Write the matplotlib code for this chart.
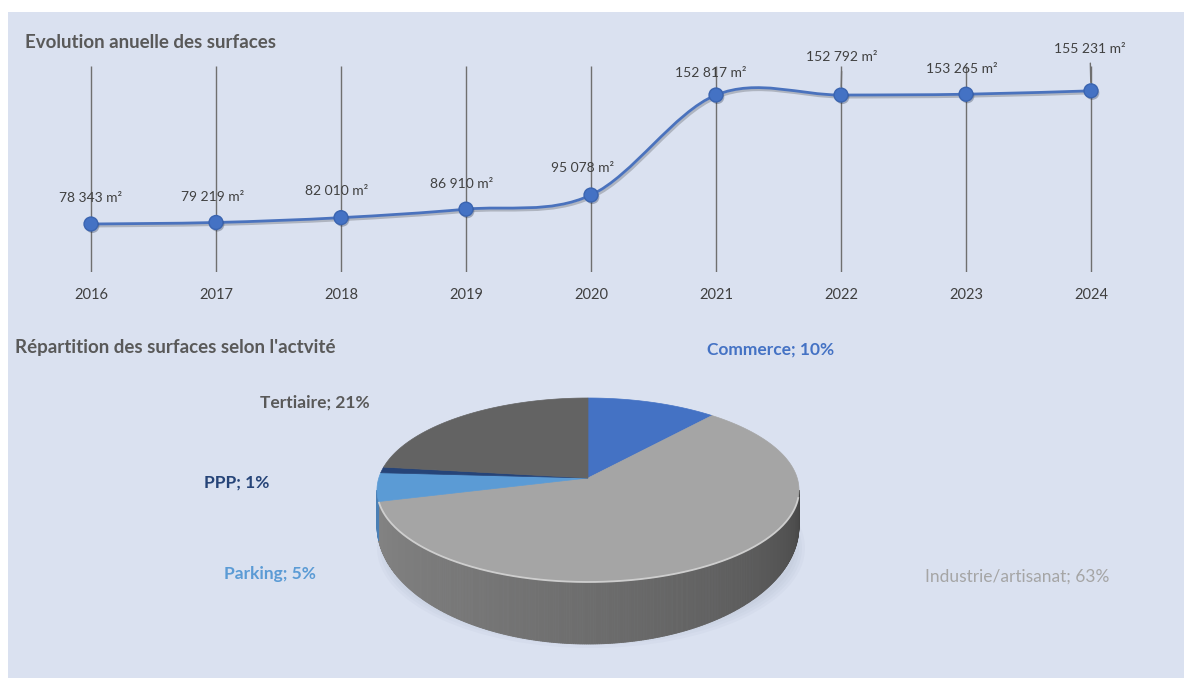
import numpy as np
import matplotlib.pyplot as plt
from matplotlib.path import Path
from matplotlib.patches import PathPatch, Polygon, Rectangle, Ellipse
import matplotlib.patheffects as pe

plt.rcParams['font.family'] = ['Lato', 'DejaVu Sans']

#### DATA ####
years = [2016, 2017, 2018, 2019, 2020, 2021, 2022, 2023, 2024]
surfaces = [78343, 79219, 82010, 86910, 95078, 152817, 152792, 153265, 155231]

activities = ['Commerce', 'Industrie/artisanat', 'Parking', 'PPP', 'Tertiaire']
shares = [10, 63, 5, 1, 21]

#### STYLE ####
slice_colors = ['#4472C4', '#A5A5A5', '#5B9BD5', '#264478', '#636363']
label_colors = ['#4472C4', '#A5A5A5', '#5B9BD5', '#264478', '#595959']
label_bold = [True, False, True, True, True]
# pie label positions (pixels)
label_pos = [(771, 350), (1017, 577), (270, 574), (237, 483), (315, 403)]
# value label offsets above the points (pixels, dx, dy)
val_offsets = [(0, 26), (-3, 25), (-4, 27), (-4, 25), (-8, 27),
               (-5, 22), (1, 38), (-4, 25), (-1, 42)]
panel = '#DAE1F0'
W, H = 1184, 678
PX = 72 / 100.  # points per pixel

fig = plt.figure(figsize=(W / 100, H / 100), dpi=100)
fig.patch.set_facecolor('white')

# background axes in pixel coordinates
bg = fig.add_axes([0, 0, 1, 1])
bg.set_xlim(0, W)
bg.set_ylim(H, 0)
bg.axis('off')
bg.add_patch(Rectangle((8, 12), W - 8, H - 12, facecolor=panel, edgecolor='none'))

bg.text(25, 42, 'Evolution anuelle des surfaces', fontsize=13.5, fontweight='bold',
        color='#595959', va='center', ha='left')
bg.text(15, 347, "Répartition des surfaces selon l'actvité", fontsize=13.5,
        fontweight='bold', color='#595959', va='center', ha='left')

#### LINE CHART ####
ylo, yhi = 50633, 169559
ax = fig.add_axes([41 / W, 1 - 272 / H, 1100 / W, 206 / H])
ax.set_facecolor('none')
ax.set_xlim(2015.6, 2024.4)
ax.set_ylim(ylo, yhi)
ax.axis('off')
ax.vlines(years, ylo, yhi, color='#6f6f6f', lw=1.0, zorder=1)

# smoothed line (Catmull-Rom style bezier, like the spreadsheet smoothing)
P = np.column_stack([np.array(years, float), np.array(surfaces, float)])
Pe = np.vstack([P[0], P, P[-1]])
verts = [P[0]]
codes = [Path.MOVETO]
for i in range(len(P) - 1):
    p0, p1, p2, p3 = Pe[i], Pe[i + 1], Pe[i + 2], Pe[i + 3]
    c1 = p1 + (p2 - p0) / 6
    c2 = p2 - (p3 - p1) / 6
    verts += [c1, c2, p2]
    codes += [Path.CURVE4] * 3
curve = PathPatch(Path(verts, codes), facecolor='none', edgecolor='#4a72bd', lw=2,
                  zorder=3, path_effects=[pe.SimpleLineShadow(offset=(1, -1.5), alpha=0.2),
                                          pe.Normal()])
ax.add_patch(curve)
ax.plot(years, surfaces, 'o', ms=10, color='#4472C4', mec='#3a64b0', mew=1, zorder=4,
        path_effects=[pe.SimplePatchShadow(offset=(1, -1.5), alpha=0.3), pe.Normal()])

for yr, v, (dx, dy) in zip(years, surfaces, val_offsets):
    txt = f'{v:,}'.replace(',', ' ') + ' m²'
    leader = dy > 30
    ax.annotate(txt, (yr, v), xytext=(dx * PX, dy * PX), textcoords='offset points',
                ha='center', va='center', fontsize=10, color='#404040', zorder=5,
                arrowprops=dict(arrowstyle='-', color='#6f6f6f', lw=1,
                                shrinkA=4, shrinkB=6) if leader else None)

for yr in years:
    ax.annotate(str(yr), (yr, ylo), xytext=(0, -23 * PX), textcoords='offset points',
                ha='center', va='center', fontsize=10.5, color='#404040')

#### 3D PIE ####
cx, cy, rx, ry = 588, 490, 211, 92
apex = (cx, cy - 12)


def top_pt(t):
    r = np.radians(t)
    return cx + rx * np.sin(r), cy - ry * np.cos(r)


def depth(t):
    return 36 + 26 * max(0.0, -np.cos(np.radians(t)))


# soft shadow under the pie
for k in range(4):
    bg.add_patch(Ellipse((cx + 3, cy + 58), 2 * rx + 6 - 6 * k, 2 * ry + 16 - 6 * k,
                         facecolor='#9aa4b8', edgecolor='none', alpha=0.07, zorder=1))

bounds = np.concatenate([[0], np.cumsum(shares)]) / sum(shares) * 360

# sides (front half only)
for i in range(len(shares)):
    a0, a1 = max(bounds[i], 90), min(bounds[i + 1], 270)
    if a1 <= a0:
        continue
    steps = np.linspace(a0, a1, max(2, int((a1 - a0) * 2)))
    for t0, t1 in zip(steps[:-1], steps[1:]):
        tm = (t0 + t1) / 2
        x0, y0 = top_pt(t0)
        x1, y1 = top_pt(t1)
        if i == 1:
            s = 0.25 + 0.27 * ((tm - 90) / 180) ** 0.6
            col = (s, s, s)
        else:
            col = '#4a7fb5'
        bg.add_patch(Polygon([(x0, y0), (x1, y1), (x1, y1 + depth(t1)), (x0, y0 + depth(t0))],
                             closed=True, facecolor=col, edgecolor=col, lw=0.6, zorder=2))

# top slices
for i in range(len(shares)):
    ts = np.linspace(bounds[i], bounds[i + 1], 200)
    pts = [apex] + [top_pt(t) for t in ts]
    bg.add_patch(Polygon(pts, closed=True, facecolor=slice_colors[i],
                         edgecolor=slice_colors[i], lw=0.5, zorder=3))

# rim highlight
ts = np.linspace(95, 262, 200)
rim = np.array([top_pt(t) for t in ts])
bg.plot(rim[:, 0], rim[:, 1], color='#d4d4d4', lw=1.3, alpha=0.9, zorder=4)

for name, sh, (lx, ly), c, b in zip(activities, shares, label_pos, label_colors, label_bold):
    bg.text(lx, ly, f'{name}; {sh}%', ha='center', va='center', fontsize=12.5,
            color=c, fontweight='bold' if b else 'normal')

fig.savefig('out.png', dpi=100, facecolor=fig.get_facecolor())
